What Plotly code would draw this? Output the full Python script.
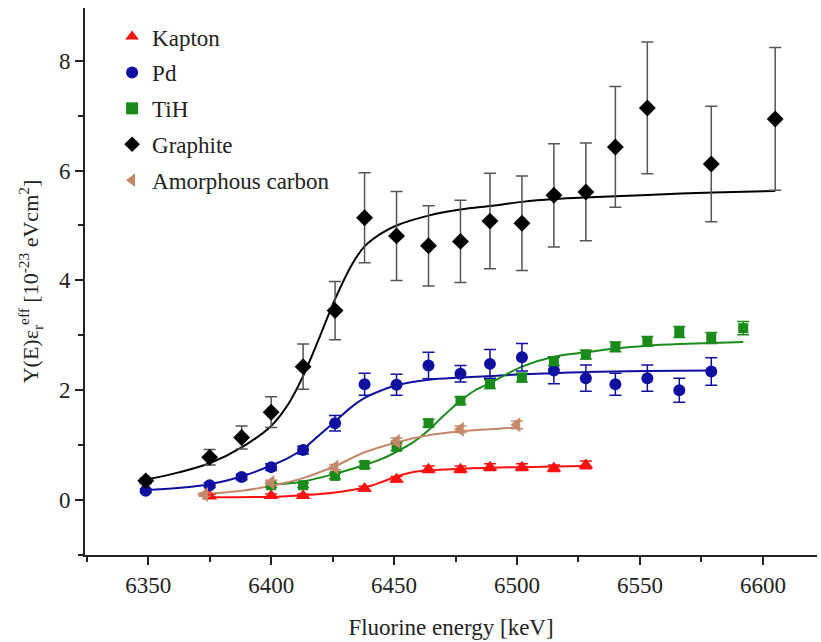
import plotly.graph_objects as go

# ---------------- data ----------------
graphite_x = [6349, 6375, 6388, 6400, 6413, 6426, 6438, 6451, 6464, 6477, 6489, 6502, 6515, 6528, 6540, 6553, 6579, 6605]
graphite_y = [0.35, 0.78, 1.14, 1.60, 2.43, 3.45, 5.14, 4.81, 4.63, 4.71, 5.08, 5.04, 5.55, 5.61, 6.43, 7.14, 6.12, 6.94]
graphite_err = [0.05, 0.14, 0.21, 0.28, 0.41, 0.53, 0.82, 0.81, 0.73, 0.75, 0.87, 0.86, 0.94, 0.89, 1.10, 1.20, 1.05, 1.30]

pd_x = [6349, 6375, 6388, 6400, 6413, 6426, 6438, 6451, 6464, 6477, 6489, 6502, 6515, 6528, 6540, 6553, 6566, 6579]
pd_y = [0.17, 0.27, 0.42, 0.60, 0.91, 1.40, 2.11, 2.10, 2.45, 2.30, 2.48, 2.60, 2.36, 2.22, 2.11, 2.22, 2.00, 2.34]
pd_err = [0.03, 0.04, 0.05, 0.06, 0.07, 0.14, 0.20, 0.19, 0.24, 0.15, 0.26, 0.25, 0.24, 0.24, 0.20, 0.24, 0.22, 0.25]

tih_x = [6400, 6413, 6426, 6438, 6451, 6464, 6477, 6489, 6502, 6515, 6528, 6540, 6553, 6566, 6579, 6592]
tih_y = [0.27, 0.27, 0.44, 0.64, 0.97, 1.40, 1.81, 2.11, 2.23, 2.53, 2.65, 2.79, 2.89, 3.06, 2.95, 3.13]
tih_err = [0.04, 0.04, 0.05, 0.06, 0.07, 0.07, 0.07, 0.08, 0.08, 0.08, 0.08, 0.09, 0.09, 0.10, 0.10, 0.12]

kapton_x = [6375, 6400, 6413, 6438, 6451, 6464, 6477, 6489, 6502, 6515, 6528]
kapton_y = [0.07, 0.08, 0.08, 0.21, 0.38, 0.56, 0.56, 0.60, 0.60, 0.58, 0.64]
kapton_err = [0.03, 0.03, 0.03, 0.04, 0.05, 0.06, 0.06, 0.06, 0.06, 0.06, 0.07]

amorph_x = [6373, 6400, 6426, 6451, 6477, 6500]
amorph_y = [0.10, 0.32, 0.60, 1.07, 1.29, 1.37]
amorph_err = [0.03, 0.04, 0.05, 0.06, 0.06, 0.07]

# fitted curves
graphite_fit_x = [6349, 6362, 6375, 6388, 6400, 6407, 6413, 6420, 6426, 6433, 6438, 6445, 6451, 6464, 6477, 6490, 6502, 6515, 6528, 6540, 6560, 6580, 6605]
graphite_fit_y = [0.37, 0.50, 0.67, 0.96, 1.35, 1.75, 2.26, 3.00, 3.66, 4.30, 4.62, 4.86, 5.00, 5.18, 5.29, 5.36, 5.43, 5.48, 5.51, 5.53, 5.57, 5.60, 5.63]

pd_fit_x = [6349, 6362, 6375, 6388, 6400, 6407, 6413, 6419, 6426, 6432, 6438, 6445, 6451, 6464, 6477, 6490, 6502, 6515, 6528, 6553, 6579]
pd_fit_y = [0.18, 0.22, 0.29, 0.43, 0.63, 0.77, 0.93, 1.16, 1.43, 1.67, 1.86, 2.00, 2.09, 2.19, 2.23, 2.26, 2.29, 2.31, 2.33, 2.35, 2.36]

tih_fit_x = [6400, 6413, 6426, 6438, 6445, 6451, 6458, 6464, 6470, 6477, 6483, 6490, 6502, 6515, 6528, 6540, 6553, 6566, 6579, 6592]
tih_fit_y = [0.28, 0.34, 0.48, 0.64, 0.75, 0.88, 1.06, 1.27, 1.53, 1.81, 2.00, 2.15, 2.43, 2.61, 2.69, 2.76, 2.81, 2.84, 2.86, 2.88]

kapton_fit_x = [6375, 6400, 6413, 6426, 6438, 6445, 6451, 6458, 6464, 6477, 6490, 6502, 6515, 6528]
kapton_fit_y = [0.05, 0.06, 0.09, 0.14, 0.23, 0.33, 0.43, 0.51, 0.54, 0.57, 0.59, 0.60, 0.61, 0.62]

amorph_fit_x = [6370, 6388, 6400, 6413, 6426, 6438, 6451, 6464, 6477, 6489, 6500]
amorph_fit_y = [0.10, 0.17, 0.26, 0.40, 0.62, 0.87, 1.05, 1.18, 1.25, 1.29, 1.32]

x_tick_vals = [6350, 6400, 6450, 6500, 6550, 6600]
y_tick_vals = [0, 2, 4, 6, 8]

# ---------------- styling ----------------
FONT = "Liberation Serif"
TXT = "#222222"
C_KAPTON = "#ff1010"
C_PD = "#1010a0"
C_TIH = "#1a8a1a"
C_GRAPH = "#000000"
C_AMORPH = "#c4886a"

fig = go.Figure()

fits = [
    (kapton_fit_x, kapton_fit_y, C_KAPTON),
    (pd_fit_x, pd_fit_y, C_PD),
    (tih_fit_x, tih_fit_y, C_TIH),
    (graphite_fit_x, graphite_fit_y, C_GRAPH),
    (amorph_fit_x, amorph_fit_y, C_AMORPH),
]
for fx, fy, col in fits:
    fig.add_trace(go.Scatter(x=fx, y=fy, mode="lines", line=dict(color=col, width=2, shape="spline", smoothing=1.0),
                             showlegend=False, hoverinfo="skip"))

series = [
    ("Kapton", kapton_x, kapton_y, kapton_err, C_KAPTON, C_KAPTON, "triangle-up", 13),
    ("Pd", pd_x, pd_y, pd_err, C_PD, C_PD, "circle", 12),
    ("TiH", tih_x, tih_y, tih_err, C_TIH, C_TIH, "square", 10),
    ("Graphite", graphite_x, graphite_y, graphite_err, C_GRAPH, "#555555", "diamond", 13),
    ("Amorphous carbon", amorph_x, amorph_y, amorph_err, C_AMORPH, C_AMORPH, "triangle-left", 13),
]
for name, sx, sy, se, col, ecol, sym, sz in series:
    fig.add_trace(go.Scatter(
        x=sx, y=sy, mode="markers", name=name, legendgroup=name,
        marker=dict(symbol=sym, size=sz, color=col, line=dict(width=0)),
        error_y=dict(type="data", array=se, visible=True, color=ecol, thickness=1.5, width=6),
    ))

fig.update_layout(
    width=821, height=642,
    margin=dict(l=85, r=4, t=8, b=87),
    paper_bgcolor="white", plot_bgcolor="white",
    font=dict(family=FONT, size=23, color=TXT),
    showlegend=True,
    legend=dict(x=0.037, y=0.987, xanchor="left", yanchor="top", bgcolor="rgba(0,0,0,0)",
                font=dict(family=FONT, size=23, color=TXT), tracegroupgap=3, itemsizing="constant"),
)
fig.update_xaxes(
    range=[6324.3, 6622], tickvals=x_tick_vals, ticks="outside", ticklen=8, tickwidth=2, tickcolor=TXT,
    showline=True, linecolor=TXT, linewidth=2, showgrid=False, zeroline=False, automargin=False,
    minor=dict(dtick=25, tick0=6325, ticks="outside", ticklen=5, tickwidth=2, tickcolor=TXT, showgrid=False),
    tickfont=dict(family=FONT, size=23, color=TXT),
    title=dict(text="Fluorine energy [keV]", font=dict(family=FONT, size=23, color=TXT), standoff=22),
)
fig.update_yaxes(
    range=[-1, 8.96], tickvals=y_tick_vals, ticks="outside", ticklen=8, tickwidth=2, tickcolor=TXT,
    showline=True, linecolor=TXT, linewidth=2, showgrid=False, zeroline=False, automargin=False,
    minor=dict(dtick=2, tick0=-1, ticks="outside", ticklen=5, tickwidth=2, tickcolor=TXT, showgrid=False),
    tickfont=dict(family=FONT, size=23, color=TXT),
    title=dict(text="Y(E)ε<sub>r</sub><sup>eff</sup> [10<sup>-23</sup> eVcm<sup>2</sup>]",
               font=dict(family=FONT, size=22, color=TXT), standoff=14),
)

fig.write_html("out.html", config={"displayModeBar": False},
               post_script="document.body.style.margin='0';document.body.style.padding='0';")
